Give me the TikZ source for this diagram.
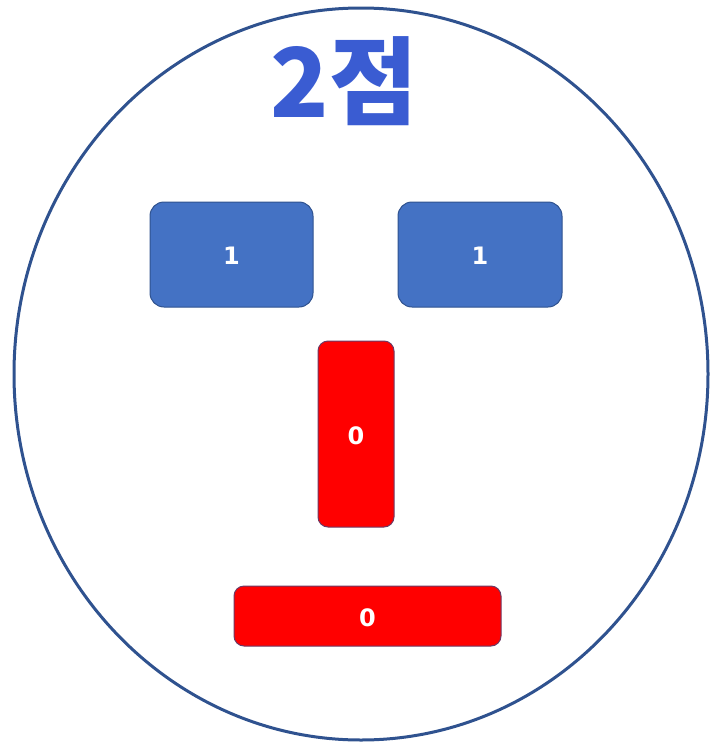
\documentclass[tikz,border=0pt]{standalone}
\usepackage{fontspec}
\newfontfamily\krfont{Noto Sans CJK KR}
\newfontfamily\numfont{DejaVu Sans}
\definecolor{officeblue}{HTML}{4472C4}
\definecolor{edgeblue}{HTML}{2F528F}
\definecolor{titleblue}{HTML}{3A5CD2}
\begin{document}
\begin{tikzpicture}[x=1pt,y=-1pt,
  bluebox/.style={draw=edgeblue,line width=1pt,fill=officeblue,rounded corners=14pt},
  redbox/.style={draw=edgeblue!70!red,line width=1pt,fill=red,rounded corners=10pt},
  numlabel/.style={text=white,font=\numfont\bfseries\fontsize{24}{28}\selectfont}]
\useasboundingbox (0,0) rectangle (712,744);
\draw[edgeblue,line width=3pt] (361,374) ellipse [x radius=347, y radius=366];
\node[font=\krfont\bfseries\fontsize{96}{104}\selectfont,text=titleblue,draw=none] (title) at (344,81) {2점};
\draw[bluebox] (150,202) rectangle (313,307);
\node[numlabel] (b1) at (231.5,256) {1};
\draw[bluebox] (398,202) rectangle (562,307);
\node[numlabel] (b2) at (480,256) {1};
\draw[redbox] (318,341) rectangle (394,527);
\node[numlabel] (r1) at (356,436) {0};
\draw[redbox] (234,586) rectangle (501,646);
\node[numlabel] (r2) at (367.5,618) {0};
\end{tikzpicture}
\end{document}
